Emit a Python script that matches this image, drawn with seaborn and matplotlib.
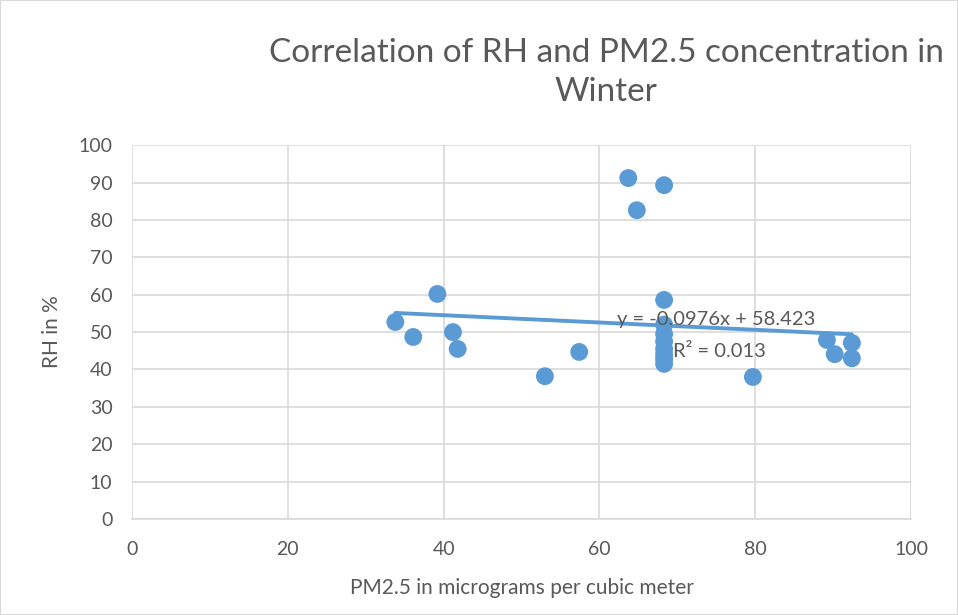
import numpy as np
import pandas as pd
import seaborn as sns
import matplotlib.pyplot as plt

# values
pm25 = [33.8, 36.1, 39.2, 41.2, 41.8, 53.0, 57.4, 63.7, 64.8, 68.3, 68.3,
        68.3, 68.3, 68.3, 68.3, 68.3, 68.3, 68.3,
        79.7, 89.2, 90.2, 92.4, 92.4]
rh = [52.7, 48.7, 60.2, 50.0, 45.5, 38.2, 44.7, 91.2, 82.6, 89.3, 58.6,
      52.0, 49.5, 47.5, 45.5, 44.0, 42.8, 41.5,
      38.0, 47.9, 44.1, 47.1, 43.0]
slope = -0.0976
intercept = 58.423
r2 = 0.013

blue = '#5B9BD5'
grey = '#595959'

sns.set_theme(style='white')
plt.rcParams['font.family'] = ['Lato', 'DejaVu Sans']

df = pd.DataFrame({'pm25': pm25, 'rh': rh})
trend_x = np.array([min(pm25), max(pm25)])
trend = pd.DataFrame({'x': trend_x, 'y': slope * trend_x + intercept})

fig = plt.figure(figsize=(9.58, 6.15), dpi=100)
ax = fig.add_axes([0.1378, 0.156, 0.8132, 0.608])

sns.lineplot(data=trend, x='x', y='y', ax=ax, color=blue, linewidth=2.8, zorder=2)
sns.scatterplot(data=df, x='pm25', y='rh', ax=ax, color=blue, s=165,
                edgecolor='none', zorder=3, legend=False)

ax.set_xlim(0, 100)
ax.set_ylim(0, 100)
ax.set_xticks(range(0, 101, 20))
ax.set_yticks(range(0, 101, 10))
ax.grid(True, color='#D9D9D9', linewidth=1.2)
ax.set_axisbelow(True)
for s in ['top', 'right', 'left']:
    ax.spines[s].set_visible(False)
ax.spines['bottom'].set_color('#D9D9D9')
ax.spines['bottom'].set_linewidth(1.2)
ax.tick_params(axis='both', length=0, labelsize=14, labelcolor=grey)
ax.tick_params(axis='x', pad=16)
ax.tick_params(axis='y', pad=14)

ax.set_xlabel('PM2.5 in micrograms per cubic meter', fontsize=15, color=grey, labelpad=14)
ax.set_ylabel('RH in %', fontsize=15, color=grey, labelpad=12)

ax.text(62.3, 53.4, f'y = {slope}x + {intercept}', fontsize=14.5, color=grey,
        va='center', ha='left')
ax.text(69.5, 44.8, f'R² = {r2}', fontsize=14.5, color=grey, va='center', ha='left')

fig.text(0.633, 0.882, 'Correlation of RH and PM2.5 concentration in\nWinter',
         ha='center', va='center', fontsize=24, color=grey, linespacing=1.35)

fig.patches.append(plt.Rectangle((0, 0), 1, 1, transform=fig.transFigure,
                                 fill=False, edgecolor='#D9D9D9', linewidth=1.5))

fig.savefig('out.png', dpi=100)
